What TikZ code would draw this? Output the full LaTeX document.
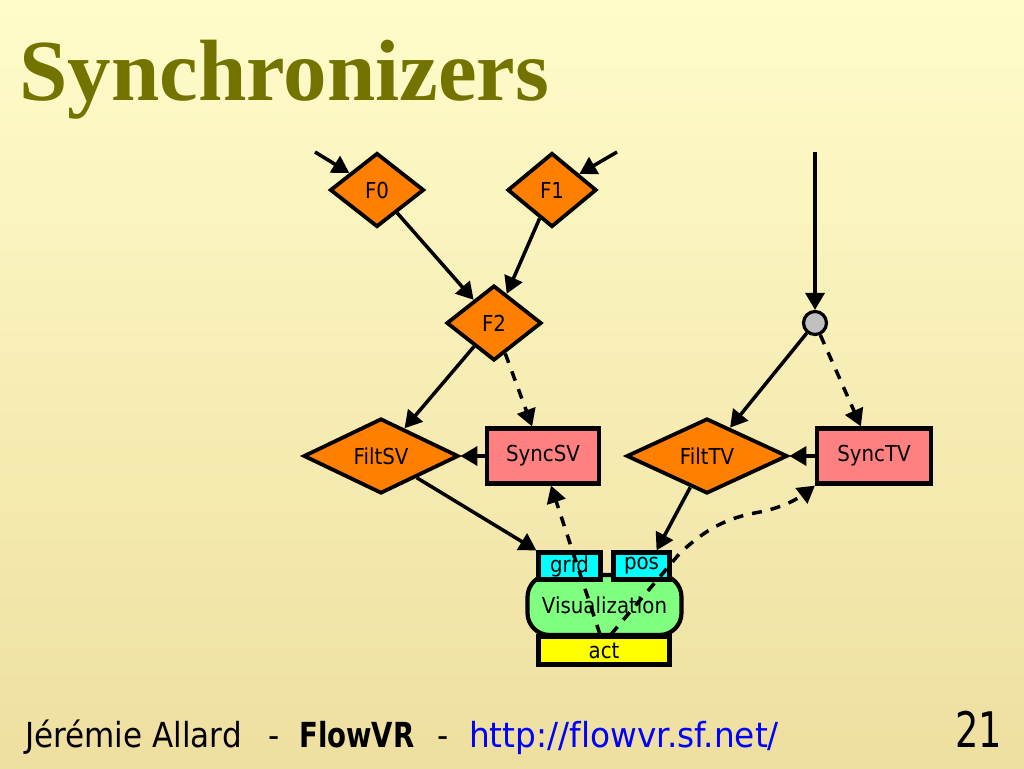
\documentclass[tikz,border=0pt]{standalone}
\usepackage{fontspec}
\setmainfont{Liberation Serif}
\newfontfamily\labfont[FakeStretch=0.9]{DejaVu Sans}
\newfontfamily\footfont[FakeStretch=0.9,BoldFeatures={FakeStretch=0.8}]{DejaVu Sans}
\newfontfamily\urlfont[FakeStretch=0.95,Ligatures=NoCommon]{DejaVu Sans}
\newfontfamily\numfont[FakeStretch=0.75]{DejaVu Sans}
\usetikzlibrary{shapes.geometric,arrows.meta,calc}
\definecolor{bgtop}{RGB}{255,252,202}
\definecolor{bgbot}{RGB}{238,223,160}
\definecolor{titleolive}{RGB}{115,115,0}
\definecolor{nodeorange}{RGB}{255,128,0}
\definecolor{nodepink}{RGB}{255,128,128}
\definecolor{nodegreen}{RGB}{128,255,128}
\definecolor{nodecyan}{RGB}{0,255,255}
\definecolor{nodeyellow}{RGB}{255,255,0}
\definecolor{nodegray}{RGB}{192,192,192}
\definecolor{urlblue}{RGB}{0,0,255}
\begin{document}
\begin{tikzpicture}[x=1pt,y=-1pt,
  lab/.style={font=\labfont\fontsize{22}{26}\selectfont, text=black},
  dia/.style={diamond, draw, line width=3.8pt, fill=nodeorange, inner sep=0pt, lab},
  boxnode/.style={rectangle, draw, line width=4.2pt, inner sep=0pt, lab},
  edge/.style={line width=3.5pt, -{Triangle[length=17pt,width=19pt]}},
  dashedge/.style={edge, dash pattern=on 10pt off 9pt},
  foot/.style={anchor=base west, inner sep=0pt, font=\footfont\fontsize{34.5}{40}\selectfont}
]
\useasboundingbox (0,0) rectangle (1024,768);
\shade[top color=bgtop, bottom color=bgbot] (0,0) rectangle (1024,768);

% title
\node[anchor=base west, inner sep=0pt, text=titleolive,
      font=\fontsize{87}{90}\selectfont\bfseries] (title) at (19,100) {Synchronizers};

% footer
\node[foot] (author) at (25,747) {Jérémie Allard};
\node[foot] (sep1) at (268,747) {-};
\node[foot, font=\footfont\fontsize{34.5}{40}\selectfont\bfseries] (flowvr) at (299,747) {FlowVR};
\node[foot] (sep2) at (437,747) {-};
\node[foot, font=\urlfont\fontsize{34.5}{40}\selectfont, text=urlblue] (url) at (469,747) {http://flowvr.sf.net/};
\node[anchor=base east, inner sep=0pt, font=\numfont\fontsize{49}{55}\selectfont] (page) at (1002,747) {21};

% nodes
\node[dia, minimum width=94pt, minimum height=74pt] (F0) at (377,190) {F0};
\node[dia, minimum width=89pt, minimum height=74pt] (F1) at (552,190) {F1};
\node[dia, minimum width=95pt, minimum height=75pt] (F2) at (494,323) {F2};
\node[dia, minimum width=155pt, minimum height=75pt] (FiltSV) at (381,456) {FiltSV};
\node[boxnode, fill=nodepink, minimum width=112pt, minimum height=55pt] (SyncSV) at (543,456) {SyncSV};
\node[dia, minimum width=161pt, minimum height=75pt] (FiltTV) at (707,456) {FiltTV};
\node[boxnode, fill=nodepink, minimum width=114pt, minimum height=55pt] (SyncTV) at (874,456) {SyncTV};
\node[circle, draw, line width=3.2pt, fill=nodegray, minimum size=23pt, inner sep=0pt] (sv) at (815,323) {};

\node[boxnode, fill=nodegreen, rounded corners=22pt, minimum width=154pt, minimum height=60pt] (vis) at (604.5,605) {\raisebox{-3pt}{Visualization}};
\node[boxnode, fill=nodecyan, minimum width=62pt, minimum height=27pt] (grid) at (569.5,566) {\raisebox{1pt}{grid}};
\node[boxnode, fill=nodecyan, minimum width=56pt, minimum height=27pt] (pos) at (641.5,566) {\raisebox{2pt}{pos}};
\node[boxnode, fill=nodeyellow, minimum width=131pt, minimum height=28pt] (act) at (604,650.5) {act};

% free ends
\coordinate (in0) at (315,152);
\coordinate (in1) at (617,152);
\coordinate (in2) at (815,152);

% connectors
\draw[edge] (in0) -- (F0);
\draw[edge] (in1) -- (F1);
\draw[edge] (in2) -- (sv);
\draw[edge] (F0) -- (F2);
\draw[edge] (F1) -- (F2);
\draw[edge] (F2) -- (FiltSV);
\draw[dashedge] (F2) -- (SyncSV);
\draw[edge] (SyncSV.west) -- (FiltSV.east);
\draw[edge] (sv) -- (FiltTV);
\draw[dashedge] (sv) -- (SyncTV);
\draw[edge] (SyncTV.west) -- (FiltTV.east);
\draw[edge] (FiltSV) -- (grid.north west);
\draw[edge] (FiltTV) -- ($(pos.north)!0.5!(pos.north east)$);
\draw[dashedge] ($(act.north)+(-4,0)$) -- ($(SyncSV.south)+(8,0)$);
\draw[dashedge] ($(act.north)+(7,0)$) -- (680,553)
   .. controls (705,530) and (725,518) .. (760,512)
   .. controls (785,507) and (800,497) .. (SyncTV.south west);
\end{tikzpicture}
\end{document}
